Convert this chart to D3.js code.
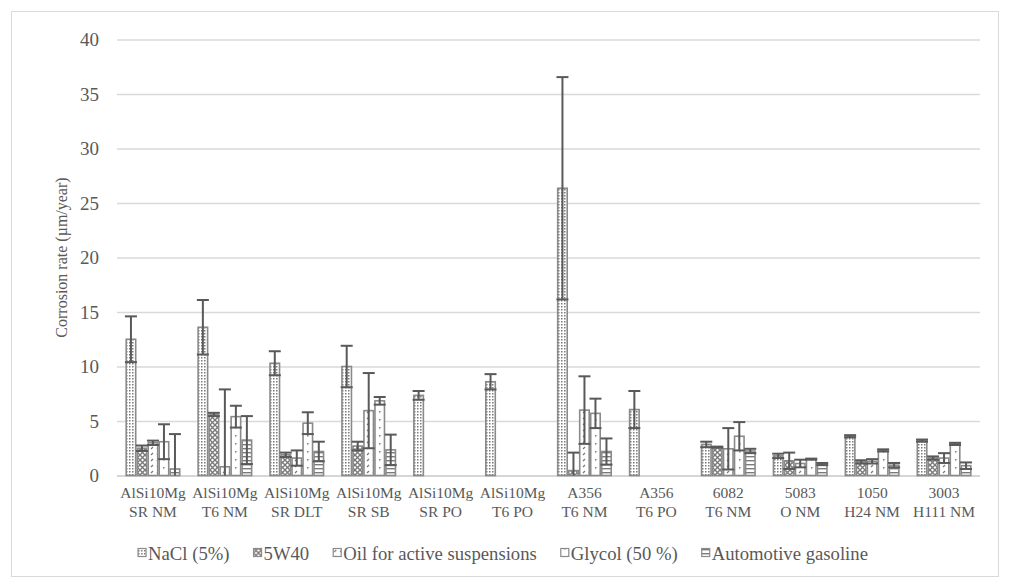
<!DOCTYPE html>
<html>
<head>
<meta charset="utf-8">
<script src="https://cdn.jsdelivr.net/npm/d3@7/dist/d3.min.js"></script>
<style>
  html, body { margin: 0; padding: 0; background: #fff; }
  svg { display: block; }
  svg text { font-family: "Times New Roman", "Liberation Serif", Times, "DejaVu Serif", serif !important; fill: #595959; }
</style>
</head>
<body>
<svg id="chart" width="1009" height="587"></svg>
<script>
// Alloy / condition categories (two-line labels)
const categories = [
  ["AlSi10Mg", "SR NM"], ["AlSi10Mg", "T6 NM"], ["AlSi10Mg", "SR DLT"],
  ["AlSi10Mg", "SR SB"], ["AlSi10Mg", "SR PO"], ["AlSi10Mg", "T6 PO"],
  ["A356", "T6 NM"], ["A356", "T6 PO"], ["6082", "T6 NM"],
  ["5083", "O NM"], ["1050", "H24 NM"], ["3003", "H111 NM"]
];
const seriesNames = ["NaCl (5%)", "5W40", "Oil for active suspensions", "Glycol (50 %)", "Automotive gasoline"];

// Corrosion rate (µm/year) per medium, null = not tested
const nacl      = [12.5, 13.6, 10.3, 10.0, 7.35, 8.6, 26.35, 6.05, 2.85, 1.8, 3.6, 3.2];
const naclErr   = [2.1, 2.5, 1.1, 1.9, 0.4, 0.7, 10.2, 1.7, 0.25, 0.2, 0.1, 0.1];
const w5w40     = [2.5, 5.6, 1.9, 2.7, null, null, 0.45, null, 2.6, 1.35, 1.25, 1.6];
const w5w40Err  = [0.25, 0.15, 0.2, 0.4, null, null, 1.65, null, 0.05, 0.75, 0.15, 0.15];
const oil       = [3.0, 0.8, 1.6, 5.95, null, null, 6.0, null, 2.45, 1.1, 1.3, 1.6];
const oilErr    = [0.2, 7.1, 0.7, 3.45, null, null, 3.1, null, 1.9, 0.35, 0.2, 0.45];
const glycol    = [3.1, 5.4, 4.8, 6.85, null, null, 5.7, null, 3.6, 1.5, 2.3, 2.9];
const glycolErr = [1.6, 1.0, 1.0, 0.35, null, null, 1.35, null, 1.3, 0.05, 0.1, 0.1];
const gasoline  = [0.6, 3.25, 2.2, 2.35, null, null, 2.2, null, 2.25, 1.05, 0.95, 0.9];
const gasolineErr = [3.2, 2.2, 0.9, 1.4, null, null, 1.2, null, 0.2, 0.1, 0.2, 0.3];

const yTicks = [0, 5, 10, 15, 20, 25, 30, 35, 40];
const yTitle = "Corrosion rate (µm/year)";

const seriesValues = [nacl, w5w40, oil, glycol, gasoline];
const seriesErrors = [naclErr, w5w40Err, oilErr, glycolErr, gasolineErr];

const svg = d3.select("#chart").attr("font-family", "'Times New Roman', 'Liberation Serif', serif");
const grey = "#8a8a8a";
const errColor = "#595959";

// Chart-area frame
svg.append("rect").attr("x", 11.5).attr("y", 11.5).attr("width", 987).attr("height", 565)
  .attr("fill", "#fff").attr("stroke", "#d9d9d9").attr("stroke-width", 1);

// Pattern fills, one per medium
const defs = svg.append("defs");
function pattern(id, w, h, draw) {
  const p = defs.append("pattern").attr("id", id).attr("patternUnits", "userSpaceOnUse")
    .attr("width", w).attr("height", h);
  p.append("rect").attr("width", w).attr("height", h).attr("fill", "#fff");
  draw(p);
}
pattern("p0", 3, 3, p => {
  p.append("rect").attr("x", 0).attr("y", 0).attr("width", 1.5).attr("height", 1.5).attr("fill", "#7a7a7a");
});
pattern("p1", 5, 5, p => {
  p.append("path").attr("d", "M0,0L5,5M5,0L0,5").attr("stroke", "#7a7a7a").attr("stroke-width", 1.4);
});
pattern("p2", 6, 6, p => {
  p.append("path").attr("d", "M1,5L3,3").attr("stroke", "#7a7a7a").attr("stroke-width", 1.2);
});
pattern("p3", 8, 8, p => {
  p.append("rect").attr("x", 3).attr("y", 3).attr("width", 1.5).attr("height", 1.5).attr("fill", "#7a7a7a");
});
pattern("p4", 4, 4, p => {
  p.append("rect").attr("x", 0).attr("y", 0).attr("width", 4).attr("height", 1.4).attr("fill", "#7a7a7a");
});

// Plot area and scales
const plotLeft = 117, plotRight = 980, plotTop = 39.5, plotBottom = 475.5;
const x0 = d3.scaleBand().domain(d3.range(categories.length)).range([plotLeft, plotRight])
  .paddingInner(0.235).paddingOuter(0.1175);
const x1 = d3.scaleBand().domain(d3.range(seriesNames.length)).range([0, x0.bandwidth()]);
const y = d3.scaleLinear().domain([0, 40]).range([plotBottom, plotTop]);

// Horizontal gridlines and y tick labels
const yAxis = d3.axisLeft(y).tickValues(yTicks).tickSize(-(plotRight - plotLeft)).tickPadding(18);
const gy = svg.append("g").attr("transform", `translate(${plotLeft},0)`).call(yAxis)
  .attr("font-family", null);
gy.select(".domain").remove();
gy.selectAll(".tick line").attr("stroke", "#d9d9d9").attr("stroke-width", 1.5);
gy.selectAll(".tick text").style("font-size", "19px").attr("fill", "#595959");
gy.selectAll(".tick").filter(d => d === 0).select("line").attr("stroke", "#c8c8c8");

// Bars
const barData = [];
seriesValues.forEach((vals, s) => vals.forEach((v, c) => {
  if (v != null) barData.push({ s, c, v, e: seriesErrors[s][c] });
}));

svg.append("g").selectAll("rect").data(barData).join("rect")
  .attr("x", d => x0(d.c) + x1(d.s) + 0.75)
  .attr("y", d => y(d.v))
  .attr("width", x1.bandwidth() - 1.5)
  .attr("height", d => y(0) - y(d.v))
  .attr("fill", d => `url(#p${d.s})`)
  .attr("stroke", grey).attr("stroke-width", 1.6);

// Error bars (clipped at zero)
const eg = svg.append("g").attr("stroke", errColor).attr("stroke-width", 2).attr("fill", "none");
barData.forEach(d => {
  const cx = x0(d.c) + x1(d.s) + x1.bandwidth() / 2;
  const hi = d.v + d.e, lo = Math.max(0, d.v - d.e);
  const hw = x1.bandwidth() / 2 + 0.5;
  eg.append("line").attr("x1", cx).attr("x2", cx).attr("y1", y(hi)).attr("y2", y(lo));
  eg.append("line").attr("x1", cx - hw).attr("x2", cx + hw).attr("y1", y(hi)).attr("y2", y(hi));
  if (d.v - d.e > 0)
    eg.append("line").attr("x1", cx - hw).attr("x2", cx + hw).attr("y1", y(lo)).attr("y2", y(lo));
});

// Category labels
const cl = svg.append("g");
categories.forEach((lines, c) => {
  const cx = x0(c) + x0.bandwidth() / 2;
  const t = cl.append("text").attr("x", cx).attr("y", 498)
    .attr("text-anchor", "middle").style("font-size", "15.5px");
  lines.forEach((ln, i) => t.append("tspan").attr("x", cx)
    .attr("dy", i === 0 ? 0 : 18.5).text(ln));
});

// Y axis title
svg.append("text").attr("transform", `translate(67,${(plotTop + plotBottom) / 2}) rotate(-90)`)
  .attr("text-anchor", "middle").style("font-size", "16px").text(yTitle);

// Legend, centred under the chart
const lg = svg.append("g").attr("transform", "translate(0,553)");
const items = seriesNames.map((name, s) => {
  const g = lg.append("g");
  g.append("rect").attr("x", 0).attr("y", -4.5).attr("width", 8).attr("height", 8)
    .attr("fill", `url(#p${s})`).attr("stroke", grey).attr("stroke-width", 1.2);
  const t = g.append("text").attr("x", 10).attr("y", 0).attr("dy", "0.35em")
    .style("font-size", "18.7px").text(name);
  return { g, w: 10 + t.node().getComputedTextLength() };
});
const gap = 24;
const total = d3.sum(items, d => d.w) + gap * (items.length - 1);
let lx = 503 - total / 2;
items.forEach(it => { it.g.attr("transform", `translate(${lx},0)`); lx += it.w + gap; });
</script>
</body>
</html>
